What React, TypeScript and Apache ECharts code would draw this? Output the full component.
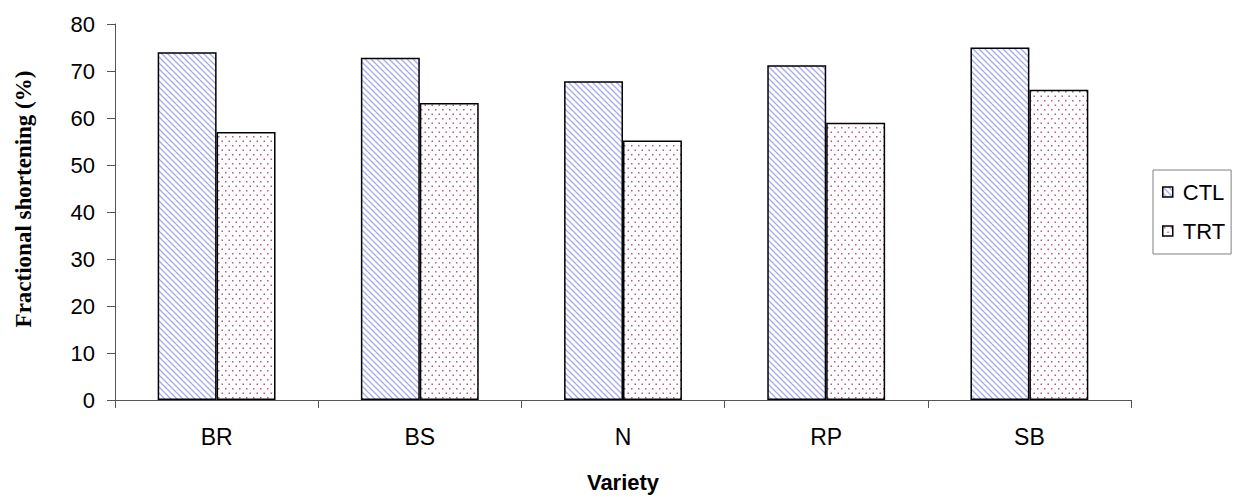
import React, { useEffect, useRef } from "react";
import * as echarts from "echarts";

const categories = ["BR", "BS", "N", "RP", "SB"];
const ctlValues = [74, 72.8, 67.8, 71.2, 75];
const trtValues = [57, 63.2, 55.2, 59, 66];
const seriesNames = ["CTL", "TRT"];

function makeStripe(): HTMLCanvasElement {
  const n = 6;
  const c = document.createElement("canvas");
  c.width = n;
  c.height = n;
  const ctx = c.getContext("2d")!;
  ctx.fillStyle = "#ffffff";
  ctx.fillRect(0, 0, n, n);
  ctx.strokeStyle = "#a4a8f6";
  ctx.lineWidth = 1.3;
  ctx.beginPath();
  ctx.moveTo(-1, -1);
  ctx.lineTo(n + 1, n + 1);
  ctx.moveTo(-1, n - 1);
  ctx.lineTo(1, n + 1);
  ctx.moveTo(n - 1, -1);
  ctx.lineTo(n + 1, 1);
  ctx.stroke();
  return c;
}

function makeDots(): HTMLCanvasElement {
  const w = 7;
  const h = 9;
  const c = document.createElement("canvas");
  c.width = w;
  c.height = h;
  const ctx = c.getContext("2d")!;
  ctx.fillStyle = "#ffffff";
  ctx.fillRect(0, 0, w, h);
  ctx.fillStyle = "#b8588a";
  ctx.fillRect(1, 1, 1.5, 1.5);
  ctx.fillRect(4.5, 5.5, 1.5, 1.5);
  return c;
}

export default function App() {
  const ref = useRef<HTMLDivElement>(null);
  useEffect(() => {
    document.body.style.margin = "0";
    document.body.style.overflow = "hidden";
    if (!ref.current) return;
    const chart = echarts.init(ref.current, undefined, { renderer: "svg" });
    const stripe = { image: makeStripe(), repeat: "repeat" } as any;
    const dots = { image: makeDots(), repeat: "repeat" } as any;
    const sans = "Liberation Sans, Arial, sans-serif";
    chart.setOption({
      animation: false,
      backgroundColor: "#fff",
      grid: { left: 115, right: 105, top: 24, bottom: 98, containLabel: false },
      legend: {
        orient: "vertical",
        left: 1153,
        top: 170,
        itemWidth: 10,
        itemHeight: 10,
        itemGap: 17,
        padding: [11, 6, 12, 9],
        borderColor: "#808080",
        borderWidth: 1,
        textStyle: { fontFamily: sans, fontSize: 22, color: "#000", padding: [0, 0, 0, 5] },
        data: [
          { name: seriesNames[0], icon: "rect", itemStyle: { color: stripe, borderColor: "#000", borderWidth: 1.5 } },
          { name: seriesNames[1], icon: "rect", itemStyle: { color: dots, borderColor: "#000", borderWidth: 1.5 } },
        ],
      },
      xAxis: {
        type: "category",
        data: categories,
        name: "Variety",
        nameLocation: "middle",
        nameGap: 71,
        nameTextStyle: { fontFamily: sans, fontSize: 22, fontWeight: "bold", color: "#000" },
        axisLine: { lineStyle: { color: "#555", width: 1 } },
        axisTick: { show: true, length: 8, lineStyle: { color: "#555" } },
        axisLabel: { fontFamily: sans, fontSize: 23, color: "#000", margin: 25 },
      },
      yAxis: {
        type: "value",
        min: 0,
        max: 80,
        interval: 10,
        name: "Fractional shortening (%)",
        nameLocation: "middle",
        nameGap: 80,
        nameTextStyle: {
          fontFamily: "Liberation Serif, Times New Roman, serif",
          fontWeight: "bold",
          fontSize: 23,
          color: "#000",
          padding: [0, 0, 0, 26],
        },
        axisLine: { show: true, lineStyle: { color: "#555", width: 1 } },
        axisTick: { show: true, length: 8, lineStyle: { color: "#555" } },
        axisLabel: { fontFamily: sans, fontSize: 22, color: "#000", margin: 20 },
        splitLine: { show: false },
      },
      series: [
        {
          name: seriesNames[0],
          type: "bar",
          data: ctlValues,
          barGap: "0%",
          barCategoryGap: "42%",
          itemStyle: { color: stripe, borderColor: "#000", borderWidth: 1.5 },
        },
        {
          name: seriesNames[1],
          type: "bar",
          data: trtValues,
          barGap: "0%",
          barCategoryGap: "42%",
          itemStyle: { color: dots, borderColor: "#000", borderWidth: 1.5 },
        },
      ],
    });
    return () => chart.dispose();
  }, []);
  return <div ref={ref} style={{ width: 1236, height: 498 }} />;
}
